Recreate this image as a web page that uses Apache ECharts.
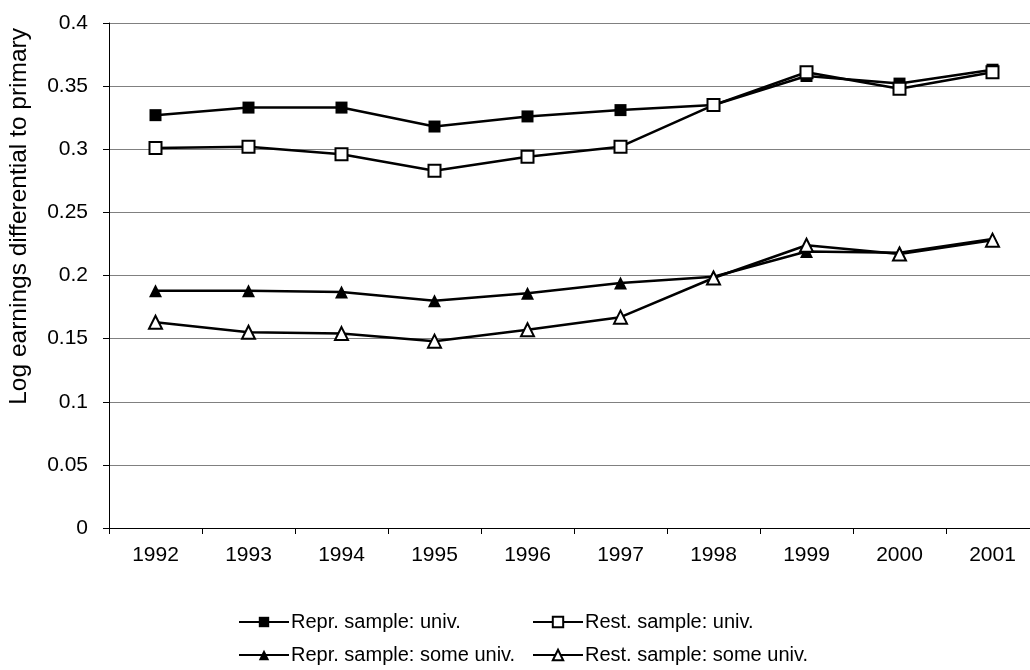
<!DOCTYPE html>
<html>
<head>
<meta charset="utf-8">
<script src="https://cdn.jsdelivr.net/npm/echarts@6/dist/echarts.min.js"></script>
<style>
  html, body { margin: 0; padding: 0; background: #fff; overflow: hidden; }
  #chart { width: 1039px; height: 670px; }
</style>
</head>
<body>
<div id="chart"></div>
<script>
const years = ['1992', '1993', '1994', '1995', '1996', '1997', '1998', '1999', '2000', '2001'];
const reprUniv = [0.327, 0.333, 0.333, 0.318, 0.326, 0.331, 0.335, 0.358, 0.352, 0.363];
const restUniv = [0.301, 0.302, 0.296, 0.283, 0.294, 0.302, 0.335, 0.361, 0.348, 0.361];
const reprSome = [0.188, 0.188, 0.187, 0.180, 0.186, 0.194, 0.199, 0.219, 0.218, 0.229];
const restSome = [0.163, 0.155, 0.154, 0.148, 0.157, 0.167, 0.198, 0.224, 0.217, 0.228];
const yTicks = ['0', '0.05', '0.1', '0.15', '0.2', '0.25', '0.3', '0.35', '0.4'];
const yTitle = 'Log earnings differential to primary';

const chart = echarts.init(document.getElementById('chart'));

const font = 'Liberation Sans, Arial, sans-serif';

const mkSeries = (name, data, symbol, filled) => ({
  name: name,
  type: 'line',
  data: data,
  symbol: symbol,
  symbolSize: symbol === 'triangle' ? 13 : 12,
  lineStyle: { color: '#000', width: 2.5 },
  itemStyle: {
    color: filled ? '#000' : '#fff',
    borderColor: '#000',
    borderWidth: filled ? 0 : 2
  },
  emphasis: { disabled: true },
  animation: false
});

const legendCommon = {
  orient: 'vertical',
  top: 612,
  padding: 0,
  itemWidth: 50,
  itemHeight: 13,
  itemGap: 13,
  textStyle: { fontFamily: font, fontSize: 20, color: '#000', padding: [0, 0, 0, -3] }
};

const option = {
  backgroundColor: '#fff',
  grid: { left: 109, right: 0, top: 23, bottom: 142 },
  legend: [
    Object.assign({ left: 238, data: ['Repr. sample: univ.', 'Repr. sample: some univ.'] }, legendCommon),
    Object.assign({ left: 532, data: ['Rest. sample: univ.', 'Rest. sample: some univ.'] }, legendCommon)
  ],
  graphic: [{
    type: 'text',
    left: 7,
    top: 28,
    style: {
      text: yTitle,
      fontFamily: font,
      fontSize: 24.5,
      fill: '#000'
    },
    rotation: Math.PI / 2,
    originX: 0,
    originY: 0
  }],
  xAxis: {
    type: 'category',
    data: years,
    boundaryGap: true,
    axisLine: { lineStyle: { color: '#000', width: 1 } },
    axisTick: { show: true, length: 6, lineStyle: { color: '#000' } },
    axisLabel: { color: '#000', fontFamily: font, fontSize: 21, margin: 17 }
  },
  yAxis: {
    type: 'value',
    min: 0,
    max: 0.4,
    interval: 0.05,
    axisLine: { show: true, lineStyle: { color: '#000', width: 1 } },
    axisTick: { show: true, length: 6, lineStyle: { color: '#000' } },
    axisLabel: {
      color: '#000', fontFamily: font, fontSize: 21, margin: 21,
      formatter: (v) => yTicks[Math.round(v / 0.05)]
    },
    splitLine: { show: true, lineStyle: { color: '#808080', width: 1 } }
  },
  series: [
    mkSeries('Repr. sample: univ.', reprUniv, 'rect', true),
    mkSeries('Rest. sample: univ.', restUniv, 'rect', false),
    mkSeries('Repr. sample: some univ.', reprSome, 'triangle', true),
    mkSeries('Rest. sample: some univ.', restSome, 'triangle', false)
  ]
};

chart.setOption(option);
</script>
</body>
</html>
